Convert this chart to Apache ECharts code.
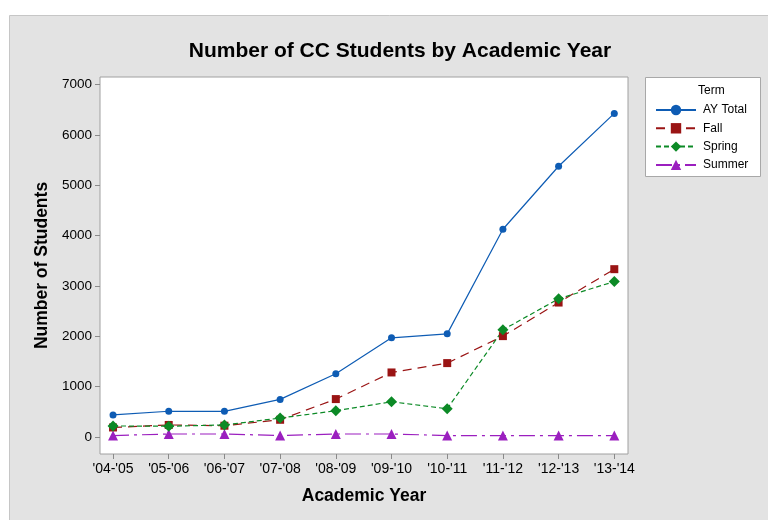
<!DOCTYPE html>
<html>
<head>
<meta charset="utf-8">
<script src="https://cdn.jsdelivr.net/npm/echarts@6/dist/echarts.min.js"></script>
<style>html,body{margin:0;padding:0;background:#fff}#c{width:768px;height:520px}</style>
</head>
<body>
<div id="c"></div>
<script>
var years = ["'04-'05","'05-'06","'06-'07","'07-'08","'08-'09","'09-'10","'10-'11","'11-'12","'12-'13","'13-'14"];
var ayTotal = [440, 512, 510, 748, 1257, 1971, 2050, 4128, 5380, 6430];
var fall = [190, 240, 225, 343, 754, 1283, 1469, 2005, 2672, 3335];
var spring = [220, 215, 240, 377, 522, 701, 562, 2130, 2746, 3089];
var summer = [30, 60, 60, 30, 60, 60, 30, 30, 30, 30];
var yTicks = [0, 1000, 2000, 3000, 4000, 5000, 6000, 7000];

function pts(arr){ return arr.map(function(v,i){ return [i, v]; }); }
var idx = years.map(function(_, i){ return i; });
var FONT = 'Liberation Sans, Arial, sans-serif';

var chart = echarts.init(document.getElementById('c'), null, {renderer:'canvas'});
chart.setOption({
  backgroundColor: '#ffffff',
  animation: false,
  title: {
    text: 'Number of CC Students by Academic Year',
    left: 395, top: 36, textAlign: 'center',
    textStyle: {fontFamily: FONT, fontSize: 21, fontWeight: 'bold', color: '#000'}
  },
  graphic: [
    {type:'rect', z:-10, silent:true, shape:{x:9.5, y:15.5, width:770, height:520},
     style:{fill:'#e3e3e3', stroke:'#c6c6c6', lineWidth:1}},
    {type:'rect', z:-5, silent:true, shape:{x:645.5, y:77.5, width:115, height:99},
     style:{fill:'#ffffff', stroke:'#a8a8a8', lineWidth:1}},
    {type:'text', left: 698, top: 85, silent:true,
     style:{text:'Term', fontFamily: FONT, fontSize: 12, fill:'#000'}}
  ],
  legend: {
    orient: 'vertical', left: 650, top: 99,
    itemWidth: 40, itemHeight: 13, itemGap: 6.3,
    textStyle: {fontFamily: FONT, fontSize: 12, color: '#000', padding:[0,0,0,2]},
    data: ['AY Total','Fall','Spring','Summer']
  },
  grid: {left: 100, right: 140, top: 77, bottom: 66, show: true,
         backgroundColor: '#ffffff', borderColor: '#a0a0a0', borderWidth: 1},
  xAxis: {
    type: 'value', min: -0.234, max: 9.246,
    name: 'Academic Year', nameLocation: 'middle', nameGap: 33,
    nameTextStyle: {fontFamily: FONT, fontSize: 17.5, fontWeight: 'bold', color:'#000'},
    axisLine: {show: false, onZero: false},
    splitLine: {show: false},
    axisTick: {show: true, customValues: idx, length: 5, lineStyle:{color:'#8a8a8a'}},
    axisLabel: {customValues: idx, margin: 8, fontFamily: FONT, fontSize: 14, color: '#000',
      formatter: function(v){ return years[Math.round(v)]; }}
  },
  yAxis: {
    type: 'value', min: -337, max: 7153,
    name: 'Number of Students', nameLocation: 'middle', nameGap: 47,
    nameTextStyle: {fontFamily: FONT, fontSize: 17.5, fontWeight: 'bold', color:'#000'},
    axisLine: {show: false, onZero: false},
    splitLine: {show: false},
    axisTick: {show: true, customValues: yTicks, length: 5, lineStyle:{color:'#8a8a8a'}},
    axisLabel: {customValues: yTicks, margin: 8, fontFamily: FONT, fontSize: 13.5, color: '#000',
      formatter: function(v){ return String(v); }}
  },
  series: [
    {name:'AY Total', type:'line', data: pts(ayTotal), symbol:'circle', symbolSize:7,
     itemStyle:{color:'#0e5cb4'}, lineStyle:{color:'#0e5cb4', width:1.2, type:'solid'}, z:4},
    {name:'Fall', type:'line', data: pts(fall), symbol:'rect', symbolSize:8,
     itemStyle:{color:'#9a1414'}, lineStyle:{color:'#9a1414', width:1.2, type:[9,6]}, z:3},
    {name:'Spring', type:'line', data: pts(spring), symbol:'diamond', symbolSize:11,
     itemStyle:{color:'#0c8a26'}, lineStyle:{color:'#0c8a26', width:1.2, type:[5,3]}, z:3},
    {name:'Summer', type:'line', data: pts(summer), symbol:'triangle', symbolSize:10,
     itemStyle:{color:'#9b1fbf'}, lineStyle:{color:'#9b1fbf', width:1.2, type:[16,5,3,5]}, z:2}
  ]
});
</script>
</body>
</html>
